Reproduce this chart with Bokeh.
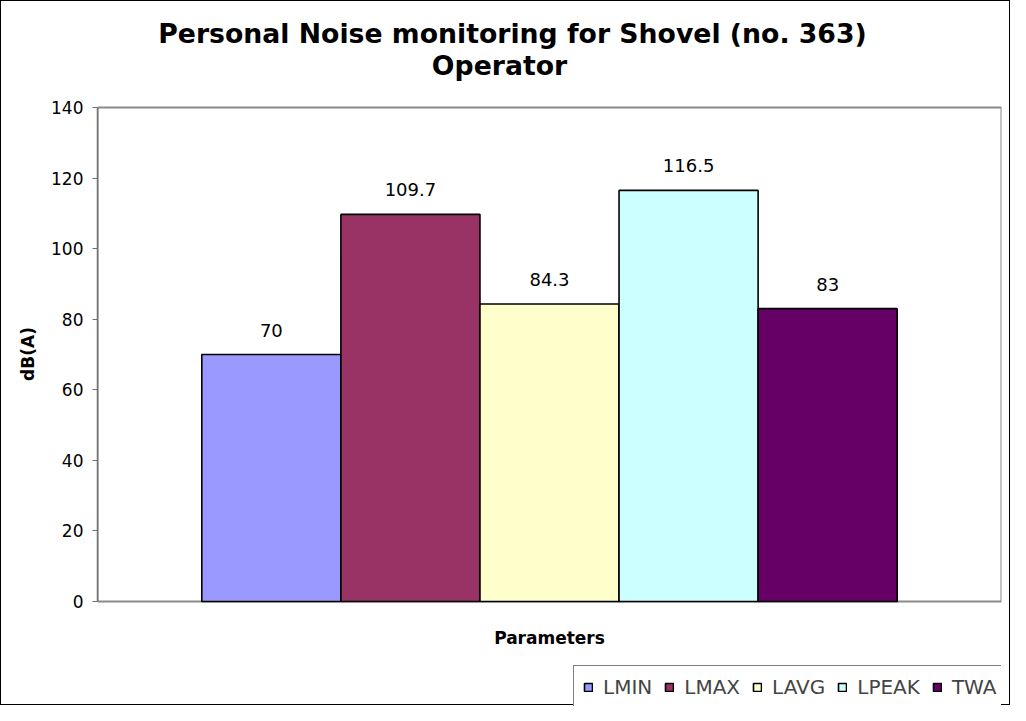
from bokeh.plotting import figure
from bokeh.models import (ColumnDataSource, Range1d, FixedTicker, LabelSet, Legend,
                          LegendItem, Label, BoxAnnotation)
from bokeh.core.properties import value
from bokeh.embed import file_html
from bokeh.resources import INLINE

# ---- data ----
categories = ["LMIN", "LMAX", "LAVG", "LPEAK", "TWA"]
values = [70, 109.7, 84.3, 116.5, 83]
colors = ["#9999FF", "#993366", "#FFFFCC", "#CCFFFF", "#660066"]
y_ticks = [0, 20, 40, 60, 80, 100, 120, 140]
y_max = 140
title_lines = ["Personal Noise monitoring for Shovel (no. 363)", "Operator"]
x_label = "Parameters"
y_label = "dB(A)"

FONT = "DejaVu Sans"

src = ColumnDataSource(dict(
    x=list(range(len(categories))),
    top=values,
    name=categories,
    color=colors,
    label=[f"{v:g}" for v in values],
))

# layout (figure pixels)
W, H = 1010, 705
FL, FR = 96, 1000          # plot-area left / right
PT, PB = 106, 600          # plot-area top (value 140) / bottom (value 0)
# the frame spans the full height so titles and legend can sit around the plot area
px_per_unit = (PB - PT) / y_max
y_start = -(H - PB) / px_per_unit
y_end = y_max + PT / px_per_unit

p = figure(width=W, height=H, output_backend="svg", toolbar_location=None,
           x_range=Range1d(-1.25, 5.25), y_range=Range1d(y_start, y_end),
           min_border_left=FL, min_border_right=W - FR,
           min_border_top=0, min_border_bottom=0, title=None)
p.styles = {"border": "1px solid black", "box-sizing": "border-box"}

# plot-area border (grey)
p.add_layout(BoxAnnotation(left=-1.25, right=5.25, bottom=0, top=y_max,
                           fill_color=None, fill_alpha=0, line_color="#8a8a8a",
                           line_alpha=1, line_width=2, level="underlay"))

bars = p.vbar(x="x", top="top", width=1.0, source=src, fill_color="color",
              line_color="black", line_width=1.6)

labels = LabelSet(x="x", y="top", text="label", source=src, text_align="center",
                  text_baseline="bottom", y_offset=18, text_font=value(FONT),
                  text_font_size="18px", text_color="black")
p.add_layout(labels)

# two-line title
for line, cx, cy in zip(title_lines, [511, 498], [32, 64]):
    p.add_layout(Label(x=cx - FL, y=H - cy, x_units="screen", y_units="screen",
                       text=line, text_align="center", text_baseline="middle",
                       text_font=FONT, text_font_size="26.7px",
                       text_font_style="bold", text_color="black"))

# x axis label under the plot area
p.add_layout(Label(x=2, y=H - 636, y_units="screen", text=x_label,
                   text_align="center", text_baseline="middle", text_font=FONT,
                   text_font_size="17px", text_font_style="bold", text_color="black"))

# y axis
p.yaxis.ticker = FixedTicker(ticks=y_ticks)
p.yaxis.bounds = (0, y_max)
p.yaxis.axis_label = y_label
p.yaxis.axis_label_text_font = FONT
p.yaxis.axis_label_text_font_style = "bold"
p.yaxis.axis_label_text_font_size = "17px"
p.yaxis.axis_label_text_color = "black"
p.yaxis.axis_label_standoff = 10
p.yaxis.major_label_text_font = FONT
p.yaxis.major_label_text_font_size = "17px"
p.yaxis.major_label_text_color = "black"
p.yaxis.major_label_standoff = 9
p.yaxis.axis_line_color = "#707070"
p.yaxis.axis_line_width = 1.5
p.yaxis.major_tick_line_color = "#707070"
p.yaxis.major_tick_out = 5
p.yaxis.major_tick_in = 0
p.yaxis.minor_tick_line_color = None

p.xaxis.visible = False
p.xgrid.grid_line_color = None
p.ygrid.grid_line_color = None
p.outline_line_color = None

items = [LegendItem(label=c, renderers=[bars], index=i) for i, c in enumerate(categories)]
legend = Legend(items=items, orientation="horizontal", location=(572 - FL, -3),
                label_text_font=FONT, label_text_font_size="20px",
                glyph_width=10, glyph_height=10, spacing=12, label_standoff=10,
                border_line_color="black", border_line_width=1,
                padding=9, margin=0, background_fill_alpha=1)
p.add_layout(legend)

open("out.html", "w").write(file_html(p, INLINE))
